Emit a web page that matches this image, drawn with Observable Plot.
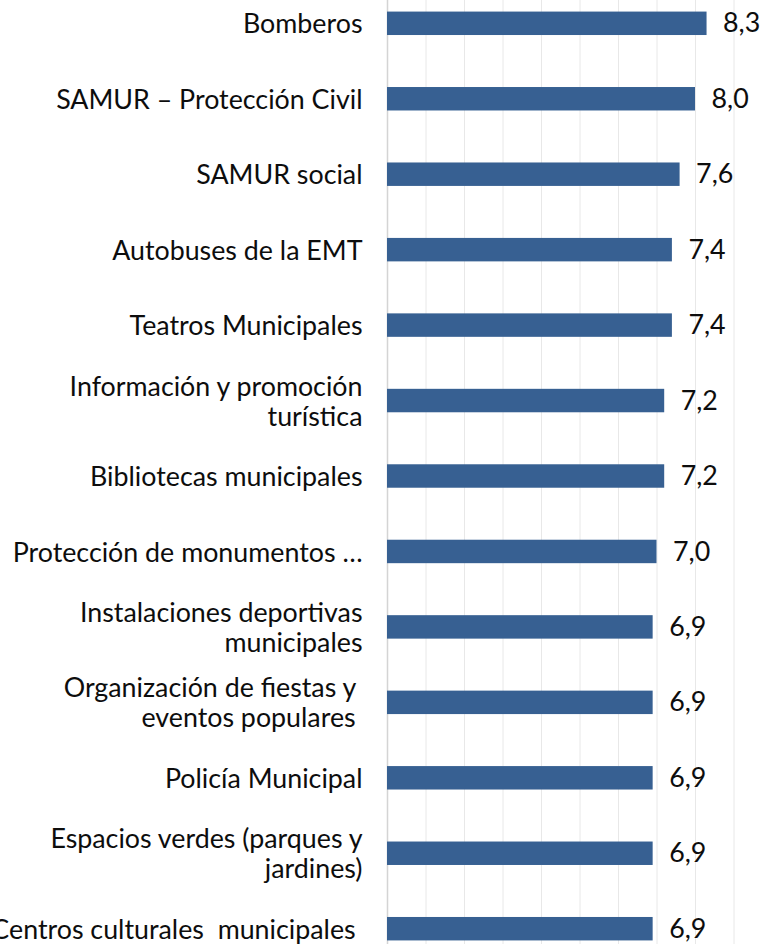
<!DOCTYPE html>
<html><head><meta charset="utf-8">
<script src="https://cdn.jsdelivr.net/npm/d3@7"></script>
<script src="https://cdn.jsdelivr.net/npm/@observablehq/plot@0.6"></script>
<style>
html,body{margin:0;padding:0;background:#fff;}
svg text{white-space:pre;}
</style></head><body><div id="chart"></div>
<script>
const categories = [
  "Bomberos",
  "SAMUR – Protección Civil",
  "SAMUR social",
  "Autobuses de la EMT",
  "Teatros Municipales",
  "Información y promoción\nturística",
  "Bibliotecas municipales",
  "Protección de monumentos …",
  "Instalaciones deportivas\nmunicipales",
  "Organización de fiestas y \neventos populares ",
  "Policía Municipal",
  "Espacios verdes (parques y\njardines)",
  "Centros culturales  municipales "
];
const values = [8.3, 8.0, 7.6, 7.4, 7.4, 7.2, 7.2, 7.0, 6.9, 6.9, 6.9, 6.9, 6.9];
const gridTicks = [1, 2, 3, 4, 5, 6, 7, 8, 9];

const data = categories.map((c, i) => ({category: c, value: values[i]}));
const step = 75.45;
const top0 = 23.3 - step / 2;
const chart = Plot.plot({
  width: 763, height: 944,
  marginLeft: 387, marginRight: 0, marginTop: 0, marginBottom: 0,
  style: {fontFamily: "Lato", fontSize: "26.8px", background: "#fff", color: "#0d0d0d"},
  x: {domain: [0, 376 / 38.5], axis: null},
  y: {domain: categories, range: [top0, top0 + step * categories.length], padding: 0, round: false, axis: null},
  marks: [
    Plot.ruleX(gridTicks, {stroke: "#e8e8e8", strokeWidth: 1}),
    Plot.ruleX([0], {stroke: "#d4d4d4", strokeWidth: 1.5}),
    Plot.barX(data, {x: "value", y: "category", fill: "#376092", insetTop: 26, insetBottom: 26}),
    Plot.text(data, {x: 0, y: "category", text: "category", textAnchor: "end", dx: -25, lineHeight: 1.12, fill: "#0d0d0d"}),
    Plot.text(data, {x: "value", y: "category", text: d => d.value.toFixed(1).replace(".", ","), textAnchor: "start", dx: 16, fill: "#0d0d0d"})
  ]
});
document.getElementById("chart").appendChild(chart);
</script></body></html>
